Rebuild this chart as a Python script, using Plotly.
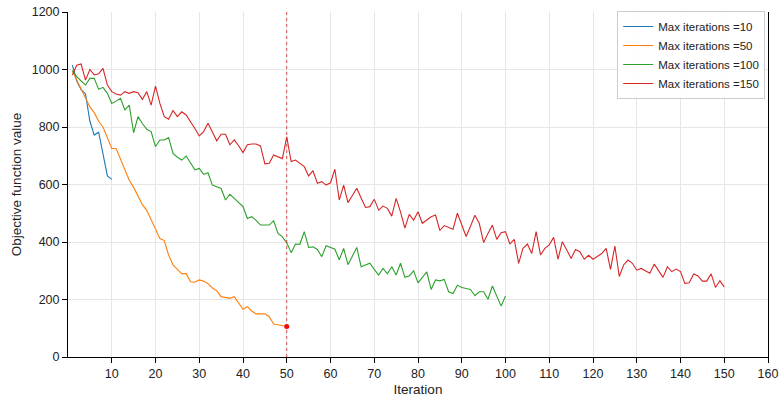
import plotly.graph_objects as go

iter10 = [1015, 960, 930, 915, 820, 772, 782, 705, 630, 618]

iter50 = [995, 965, 930, 900, 870, 850, 820, 800, 765, 725,
          725, 690, 650, 615, 590, 560, 530, 510, 475, 445,
          412, 405, 355, 320, 305, 290, 290, 262, 260, 268,
          264, 255, 240, 230, 210, 208, 204, 210, 186, 166,
          175, 160, 150, 150, 150, 140, 115, 112, 110, 106]

iter100 = [996, 975, 960, 946, 969, 969, 931, 938, 917, 882,
           890, 900, 859, 876, 780, 836, 812, 792, 784, 732,
           755, 755, 763, 708, 695, 685, 699, 674, 651, 656,
           635, 641, 598, 592, 586, 546, 566, 552, 538, 523,
           482, 488, 475, 459, 459, 459, 474, 430, 418, 397,
           363, 393, 392, 436, 381, 383, 374, 349, 387, 380,
           375, 338, 378, 321, 350, 381, 314, 320, 326, 305,
           285, 308, 289, 314, 285, 326, 277, 282, 300, 258,
           277, 296, 235, 268, 265, 270, 227, 221, 250, 242,
           238, 235, 213, 227, 227, 201, 247, 212, 177, 212]

iter150 = [981, 1015, 1019, 963, 1000, 981, 985, 1004, 946, 923,
           915, 911, 923, 917, 923, 919, 896, 923, 876, 942,
           882, 836, 827, 857, 836, 853, 842, 820, 795, 769,
           784, 813, 785, 752, 775, 775, 738, 755, 735, 711,
           738, 741, 741, 734, 672, 674, 703, 697, 690, 766,
           680, 685, 675, 662, 630, 648, 604, 610, 598, 606,
           653, 546, 598, 537, 562, 587, 553, 520, 523, 549,
           511, 525, 517, 490, 552, 505, 448, 496, 476, 505,
           465, 477, 488, 494, 440, 457, 450, 444, 500, 460,
           419, 455, 493, 465, 398, 430, 459, 409, 432, 436,
           393, 409, 326, 378, 393, 360, 436, 355, 378, 390,
           416, 340, 401, 372, 343, 374, 366, 340, 354, 340,
           350, 360, 378, 305, 386, 280, 320, 337, 326, 302,
           308, 300, 291, 323, 300, 277, 314, 297, 306, 297,
           256, 258, 289, 282, 264, 264, 289, 242, 265, 244]

series = [
    ("Max iterations =10", iter10, "#1f77b4"),
    ("Max iterations =50", iter50, "#ff7f0e"),
    ("Max iterations =100", iter100, "#2ca02c"),
    ("Max iterations =150", iter150, "#d62728"),
]

x_ticks = list(range(10, 161, 10))
y_ticks = list(range(0, 1201, 200))
marker_iter = 50

fig = go.Figure()
for name, vals, color in series:
    fig.add_trace(go.Scatter(
        x=list(range(1, len(vals) + 1)), y=vals, mode="lines", name=name,
        line=dict(color=color, width=1.1)))

fig.add_trace(go.Scatter(
    x=[marker_iter], y=[iter50[marker_iter - 1]], mode="markers",
    marker=dict(color="red", size=5), showlegend=False))

fig.add_shape(type="line", xref="x", yref="paper", x0=marker_iter, x1=marker_iter,
              y0=0, y1=1, line=dict(color="#d62728", width=0.8, dash="dot"))

font_family = "Liberation Sans, Arial, sans-serif"
fig.update_layout(
    width=779, height=405,
    margin=dict(l=68, r=11, t=12, b=48),
    plot_bgcolor="white", paper_bgcolor="white",
    font=dict(family=font_family, size=12.5, color="#222"),
    legend=dict(x=0.996, y=1.003, xanchor="right", yanchor="top",
                bgcolor="rgba(255,255,255,0.9)", bordercolor="#cccccc", borderwidth=1,
                font=dict(size=11.5), tracegroupgap=0, itemwidth=30),
    xaxis=dict(range=[0, 160], tickvals=x_ticks, showgrid=True, gridcolor="#e6e6e6",
               gridwidth=1, showline=True, linecolor="black", linewidth=1,
               ticks="outside", ticklen=5, tickcolor="black", zeroline=False,
               automargin=False, ticklabeloverflow="allow",
               title=dict(text="Iteration", font=dict(size=13.5), standoff=4)),
    yaxis=dict(range=[0, 1200], tickvals=y_ticks, showgrid=True, gridcolor="#e6e6e6",
               gridwidth=1, showline=True, linecolor="black", linewidth=1, mirror=True,
               ticks="outside", ticklen=5, tickcolor="black", zeroline=False,
               automargin=False, ticklabeloverflow="allow",
               title=dict(text="Objective function value", font=dict(size=13.5), standoff=6)),
)

fig.write_html("out.html", config={"displayModeBar": False},
               post_script="document.body.style.margin='0';")
